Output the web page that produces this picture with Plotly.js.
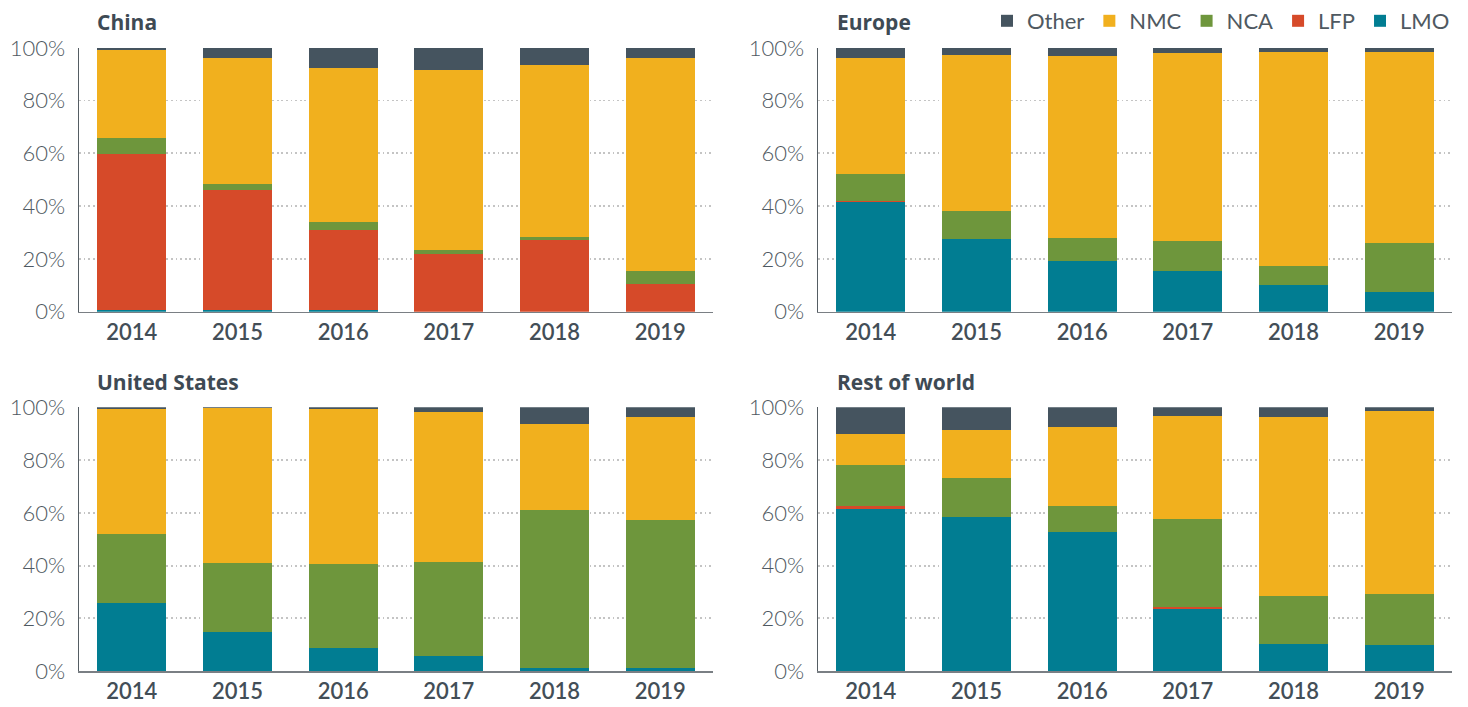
<!DOCTYPE html>
<html>
<head>
<meta charset="utf-8">
<script src="https://cdn.plot.ly/plotly-3.0.1.min.js"></script>
<style>html,body{margin:0;padding:0;background:#fff}#chart{width:1468px;height:707px}</style>
</head>
<body>
<div id="chart"></div>
<script>
const years = ["2014", "2015", "2016", "2017", "2018", "2019"];
const chemistries = ["LMO", "LFP", "NCA", "NMC", "Other"];
const regionNames = ["China", "Europe", "United States", "Rest of world"];
const yTickVals = [0, 20, 40, 60, 80, 100];
const yTickText = ["0%", "20%", "40%", "60%", "80%", "100%"];

// China
const chinaLMO   = [0.7, 0.7, 0.7, 0.0, 0.0, 0.0];
const chinaLFP   = [59.2, 45.6, 30.2, 21.8, 27.1, 10.5];
const chinaNCA   = [6.1, 1.9, 2.9, 1.5, 1.1, 4.9];
const chinaNMC   = [33.2, 48.0, 58.6, 68.4, 65.4, 80.8];
const chinaOther = [0.8, 3.8, 7.6, 8.3, 6.4, 3.8];
// Europe
const europeLMO   = [41.6, 27.7, 19.2, 15.4, 10.0, 7.3];
const europeLFP   = [0.3, 0, 0, 0, 0, 0];
const europeNCA   = [10.4, 10.6, 8.9, 11.3, 7.2, 18.9];
const europeNMC   = [43.9, 59.1, 68.9, 71.5, 81.3, 72.3];
const europeOther = [3.8, 2.6, 3.0, 1.8, 1.5, 1.5];
// United States
const usLMO   = [25.7, 14.7, 8.8, 5.8, 1.3, 1.3];
const usLFP   = [0, 0, 0, 0, 0, 0];
const usNCA   = [26.4, 26.2, 31.7, 35.5, 59.6, 56.1];
const usNMC   = [47.3, 58.7, 58.9, 56.8, 32.8, 39.0];
const usOther = [0.6, 0.4, 0.6, 1.9, 6.3, 3.6];
// Rest of world
const rowLMO   = [61.6, 58.6, 52.8, 23.5, 10.3, 9.9];
const rowLFP   = [0.8, 0, 0, 0.8, 0, 0];
const rowNCA   = [15.8, 14.6, 9.8, 33.4, 18.0, 19.5];
const rowNMC   = [11.6, 18.1, 29.9, 38.9, 67.9, 69.2];
const rowOther = [10.2, 8.7, 7.5, 3.4, 3.8, 1.4];

const regionData = [
  [chinaLMO, chinaLFP, chinaNCA, chinaNMC, chinaOther],
  [europeLMO, europeLFP, europeNCA, europeNMC, europeOther],
  [usLMO, usLFP, usNCA, usNMC, usOther],
  [rowLMO, rowLFP, rowNCA, rowNMC, rowOther]
];

const colors = {LMO: "#017d92", LFP: "#d64a29", NCA: "#6e963c", NMC: "#f1b01e", Other: "#45545f"};
const axisIds = [["x", "y"], ["x2", "y2"], ["x3", "y3"], ["x4", "y4"]];

const traces = [];
regionData.forEach((series, r) => {
  chemistries.forEach((c, i) => {
    traces.push({
      type: "bar",
      x: years,
      y: series[i],
      name: c,
      legendgroup: c,
      showlegend: r === 0,
      marker: {color: colors[c], line: {width: 0}},
      xaxis: axisIds[r][0],
      yaxis: axisIds[r][1],
      hoverinfo: "skip"
    });
  });
});

const W = 1468, H = 707;
const xDomL = [79 / W, 713 / W];
const xDomR = [818 / W, 1452 / W];
const yDomT = [1 - 310 / H, 1 - 45 / H];
const yDomB = [1 - 671 / H, 1 - 406 / H];

function xa(domain, anchor) {
  return {
    domain: domain, anchor: anchor, type: "category",
    showgrid: false, zeroline: false,
    showline: true, linecolor: "#7a7f84", linewidth: 1.5,
    ticks: "", ticklabelstandoff: 0,
    tickfont: {family: "Lato, 'Open Sans', sans-serif", size: 22, color: "#434e57", weight: 600},
    fixedrange: true
  };
}
function ya(domain, anchor) {
  return {
    domain: domain, anchor: anchor, range: [0, 100],
    tickvals: yTickVals, ticktext: yTickText,
    showgrid: true, gridcolor: "#c4c4c4", gridwidth: 1.8, griddash: "1.8px,2.8px",
    zeroline: false,
    showline: true, linecolor: "#555d63", linewidth: 1.5,
    ticks: "", ticklabelstandoff: 8,
    tickfont: {family: "Lato, 'Open Sans', sans-serif", size: 22, color: "#4f5961", weight: 300},
    fixedrange: true
  };
}

const titleFont = {family: "'Open Sans', Lato, sans-serif", size: 21, color: "#3e4a54", weight: 700};
const titlePos = [[95, 19], [835, 19], [95, 381], [835, 381]];
const annotations = regionNames.map((t, i) => ({
  text: "<b>" + t + "</b>",
  xref: "paper", yref: "paper",
  x: titlePos[i][0] / W, y: 1 - titlePos[i][1] / H,
  xanchor: "left", yanchor: "middle",
  showarrow: false, font: titleFont
}));

const layout = {
  width: W, height: H,
  margin: {l: 0, r: 0, t: 0, b: 0},
  paper_bgcolor: "#ffffff", plot_bgcolor: "#ffffff",
  barmode: "stack", bargap: 0.35,
  xaxis: xa(xDomL, "y"), yaxis: ya(yDomT, "x"),
  xaxis2: xa(xDomR, "y2"), yaxis2: ya(yDomT, "x2"),
  xaxis3: xa(xDomL, "y3"), yaxis3: ya(yDomB, "x3"),
  xaxis4: xa(xDomR, "y4"), yaxis4: ya(yDomB, "x4"),
  showlegend: true,
  legend: {
    orientation: "h", traceorder: "reversed",
    x: 1455 / W, xanchor: "right", y: 1 - 18 / H, yanchor: "middle",
    font: {family: "Lato, 'Open Sans', sans-serif", size: 22, color: "#4f5961", weight: 400},
    itemwidth: 30, tracegroupgap: 0, bgcolor: "rgba(0,0,0,0)"
  },
  annotations: annotations
};

Plotly.newPlot("chart", traces, layout, {staticPlot: true, displayModeBar: false});
</script>
</body>
</html>
